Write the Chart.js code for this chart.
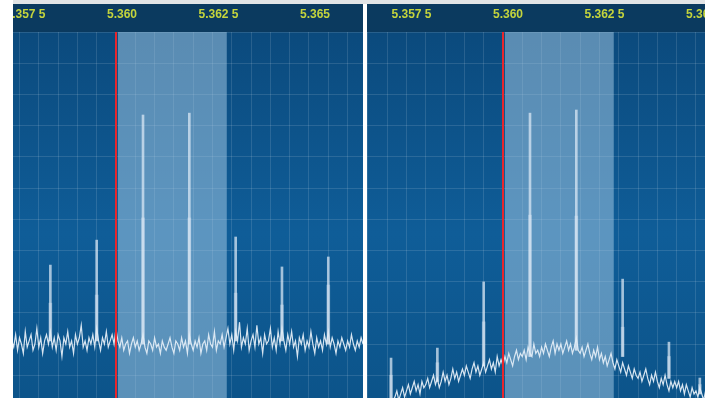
<!DOCTYPE html>
<html>
<head>
<meta charset="utf-8">
<script src="https://cdn.jsdelivr.net/npm/chart.js@4.4.1/dist/chart.umd.min.js"></script>
<style>
  html, body { margin: 0; padding: 0; background: #fff; }
  body { width: 705px; height: 398px; position: relative; overflow: hidden; }
  .topline { position: absolute; left: 13px; top: 0; width: 692px; height: 4px; background: #e2e4e6; }
  canvas { position: absolute; top: 4px; background: #0b3a5f; }
  #left { left: 13px; }
  #right { left: 367px; }
</style>
</head>
<body>
<div class="topline"></div>
<canvas id="left" width="350" height="394"></canvas>
<canvas id="right" width="338" height="394"></canvas>
<script>
// frequency in MHz, level in dB
const binWidth = 0.00005;
const tickStep = 0.0005;
const levelMin = -117.3;
const levelMax = 0;

const leftView = [5.357332, 5.366399];
const rightView = [5.356477, 5.365234];

const tunedFreq = 5.360;
const passband = [5.36005, 5.36287];

// left panel: flat noise floor
const leftBinStart = 5.3573;
const leftLevels = [
  -99, -101, -97, -102, -98, -100, -103, -96, -101, -99, -97, -102, -100, -95, -101, -98, -103, -99, -97, -100,
  -96, -101, -98, -102, -97, -99, -104, -98, -100, -96, -101, -99, -103, -97, -100, -98, -94, -101, -99, -102,
  -98, -100, -97, -101, -95, -99, -102, -98, -100, -96, -101, -99, -97, -100, -95, -99, -101, -98, -102, -100,
  -99, -103, -100, -98, -101, -99, -102, -100, -97, -101, -103, -99, -100, -102, -98, -101, -100, -103, -99, -101,
  -102, -100, -98, -101, -103, -99, -100, -102, -98, -101, -99, -103, -97, -100, -102, -99, -101, -98, -103, -100,
  -99, -102, -97, -100, -101, -96, -102, -99, -100, -97, -101, -98, -95, -100, -97, -102, -96, -99, -93, -101,
  -98, -100, -95, -102, -99, -97, -101, -94, -100, -98, -103, -97, -100, -99, -95, -101, -98, -102, -96, -100,
  -95, -99, -102, -97, -100, -96, -101, -99, -104, -98, -100, -97, -102, -99, -101, -96, -100, -103, -98, -101,
  -99, -102, -97, -100, -96, -101, -98, -100, -103, -99, -101, -98, -100, -102, -99, -101, -97, -100, -102, -99,
  -101, -98, -100
];

// right panel: humped noise floor
const rightBinStart = 5.3565;
const rightLevels = [
  -121, -120, -122, -119, -121, -120, -122, -121, -119, -120, -121, -119, -120, -118,
  -117, -115, -118, -116, -114, -117,
  -115, -113, -116, -114, -112, -115, -113, -116, -112, -114,
  -113, -111, -114, -112, -110, -113, -111, -114, -112, -109,
  -112, -110, -113, -111, -108, -111, -109, -112, -110, -108,
  -110, -107, -109, -111, -108, -106, -109, -107, -110, -108,
  -106, -109, -107, -105, -108, -106, -109, -104, -107, -105,
  -107, -104, -106, -103, -105, -107, -104, -102, -105, -103,
  -104, -102, -105, -101, -103, -104, -100, -103, -102, -104,
  -101, -103, -100, -102, -104, -101, -99, -103, -100, -102,
  -100, -103, -101, -99, -102, -100, -103, -101, -98, -102,
  -103, -101, -104, -102, -100, -103, -105, -102, -104, -101,
  -105, -103, -106, -104, -107, -105, -103, -106, -108, -105,
  -107, -109, -106, -108, -110, -107, -109, -111, -108, -110,
  -111, -109, -112, -110, -108, -111, -113, -110, -112, -109,
  -112, -114, -111, -113, -110, -113, -115, -112, -114, -112,
  -114, -112, -115, -113, -116, -113, -115, -117, -114, -116,
  -115, -117, -114, -116, -118, -115, -117
];

// carrier spikes: peak hold and average
const leftSpikeFreqs = [5.3583, 5.3595, 5.3607, 5.3619, 5.3631, 5.3643, 5.3655];
const leftSpikeFloors = [-99, -99, -100, -100, -99, -99, -100];
const leftSpikePeaks = [-74.7, -66.7, -26.6, -26.0, -65.7, -75.3, -72.1];
const leftSpikeAvg = [-86.9, -84.3, -59.6, -59.6, -83.7, -87.5, -81.1];

const rightSpikeFreqs = [5.3571, 5.3583, 5.3595, 5.3607, 5.3619, 5.3631, 5.3643, 5.3651];
const rightSpikeFloors = [-118, -112, -107, -104, -102, -104, -111, -116];
const rightSpikePeaks = [-104.5, -101.3, -80.1, -26.0, -25.0, -79.2, -99.4, -110.9];
const rightSpikeAvg = [-110, -106, -92.9, -58.7, -59.0, -94.6, -104, -113];

function freqLabel(value) {
  const n = Math.round(value * 10000);
  if (n % 25 !== 0) return '';
  const s = (n / 10000).toFixed(4);
  return s.endsWith('0') ? s.slice(0, -1) : s.slice(0, -1) + ' ' + s.slice(-1);
}

const panelBg = {
  id: 'panelBg',
  beforeDraw(chart) {
    const { ctx, chartArea: a } = chart;
    const g = ctx.createLinearGradient(0, a.top, 0, a.bottom);
    g.addColorStop(0, '#0b4a7d');
    g.addColorStop(0.55, '#0f5d98');
    g.addColorStop(1, '#0c548a');
    ctx.save();
    ctx.fillStyle = g;
    ctx.fillRect(a.left, a.top, a.width, a.height);
    ctx.restore();
  },
  beforeDatasetsDraw(chart) {
    const { ctx, chartArea: a, scales: { x } } = chart;
    const x0 = x.getPixelForValue(passband[0]);
    const x1 = x.getPixelForValue(passband[1]);
    ctx.save();
    ctx.fillStyle = 'rgba(170,205,232,0.5)';
    ctx.fillRect(x0, a.top, x1 - x0, a.height);
    ctx.restore();
  },
  afterDatasetsDraw(chart) {
    const { ctx, chartArea: a, scales: { x } } = chart;
    const px = Math.round(x.getPixelForValue(tunedFreq));
    ctx.save();
    ctx.strokeStyle = '#e8262c';
    ctx.lineWidth = 2;
    ctx.beginPath();
    ctx.moveTo(px, a.top);
    ctx.lineTo(px, a.bottom);
    ctx.stroke();
    ctx.restore();
  }
};

function makePanel(id, view, binStart, levels, spikeFreqs, spikeFloors, spikePeaks, spikeAvg, labelShift) {
  const trace = levels.map((v, i) => ({ x: binStart + i * binWidth, y: v }));
  const peaks = spikeFreqs.map((f, i) => ({ x: f, y: [spikeFloors[i], spikePeaks[i]] }));
  const avgs = spikeFreqs.map((f, i) => ({ x: f, y: [spikeFloors[i], spikeAvg[i]] }));

  return new Chart(document.getElementById(id), {
    type: 'line',
    data: {
      datasets: [
        { type: 'bar', data: peaks, backgroundColor: 'rgba(222,234,246,0.72)', barThickness: 2, grouped: false, order: 2 },
        { type: 'bar', data: avgs, backgroundColor: 'rgba(226,236,248,0.4)', barThickness: 3, grouped: false, order: 1 },
        { data: trace, borderColor: 'rgba(226,236,246,0.95)', borderWidth: 1.2, pointRadius: 0, tension: 0, order: 0 }
      ]
    },
    options: {
      responsive: false,
      animation: false,
      devicePixelRatio: 1,
      layout: { padding: 0 },
      plugins: { legend: { display: false }, tooltip: { enabled: false } },
      scales: {
        x: {
          type: 'linear',
          position: 'top',
          min: view[0],
          max: view[1],
          offset: false,
          grid: { color: 'rgba(255,255,255,0.12)', drawTicks: false, offset: false },
          border: { display: false },
          ticks: {
            stepSize: tickStep,
            includeBounds: false,
            autoSkip: false,
            maxRotation: 0,
            padding: 10,
            labelOffset: labelShift,
            color: '#c4d43c',
            font: { family: 'Liberation Sans', size: 12, weight: 'bold' },
            callback: freqLabel
          },
          afterFit(s) { s.height = 28; s.paddingLeft = 0; s.paddingRight = 0; }
        },
        y: {
          type: 'linear',
          min: levelMin,
          max: levelMax,
          grid: { color: 'rgba(255,255,255,0.12)', drawTicks: false },
          border: { display: false },
          ticks: { display: false, stepSize: 10, includeBounds: false },
          afterFit(s) { s.width = 0; }
        }
      }
    },
    plugins: [panelBg]
  });
}

makePanel('left', leftView, leftBinStart, leftLevels, leftSpikeFreqs, leftSpikeFloors, leftSpikePeaks, leftSpikeAvg, 6);
makePanel('right', rightView, rightBinStart, rightLevels, rightSpikeFreqs, rightSpikeFloors, rightSpikePeaks, rightSpikeAvg, 5);
</script>
</body>
</html>
